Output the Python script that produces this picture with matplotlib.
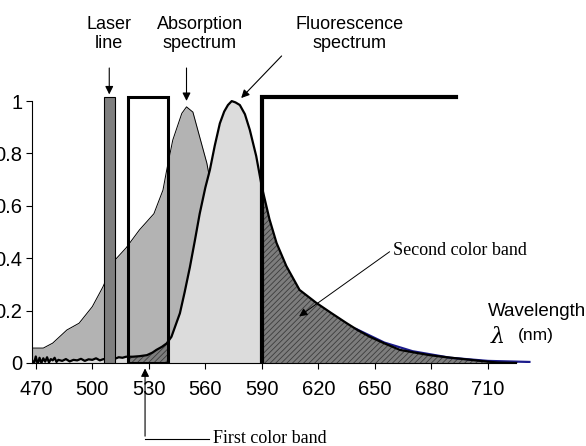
import numpy as np
import matplotlib.pyplot as plt
from matplotlib.patches import Rectangle

plt.rcParams['font.family'] = ['Liberation Sans', 'DejaVu Sans']
plt.rcParams['hatch.linewidth'] = 0.6

# absorption spectrum (normalised)
abs_wl = [468, 474, 479, 486.5, 493, 500, 505.6, 512, 518, 525, 532.7, 537.5,
          539.5, 542.7, 547.5, 550, 553.4, 557, 560.8, 565, 570, 575, 580, 590, 600]
abs_val = [0.057, 0.057, 0.076, 0.126, 0.152, 0.215, 0.29, 0.393, 0.44, 0.508, 0.57, 0.66,
           0.737, 0.851, 0.953, 0.978, 0.958, 0.863, 0.763, 0.6, 0.42, 0.28, 0.18, 0.07, 0.02]

# fluorescence spectrum (normalised, noisy baseline)
fl_wl = [468, 469, 470, 471, 472, 473, 474, 475, 476, 477, 478, 479, 480, 481, 482,
         484, 486, 488, 490, 492, 494, 496, 498, 500, 502, 504, 506, 508, 510, 512,
         514, 516, 518, 521.5, 525, 529, 532, 534, 537, 539.5, 542, 544, 546.5, 549,
         551.8, 554.5, 557, 560, 562.4, 565, 567.7, 570, 572, 574, 576, 578.3, 581,
         583.6, 587, 590, 594, 597.8, 603, 610, 619, 627, 635, 641, 647.3, 655, 663.3,
         671, 679, 688, 697, 706, 714.8, 725]
fl_val = [0.012, -0.004, 0.025, -0.005, 0.02, 0.0, 0.018, 0.005, 0.022, 0.002, 0.015,
          0.01, 0.02, 0.004, 0.012, 0.008, 0.015, 0.006, 0.012, 0.01, 0.016, 0.008,
          0.014, 0.012, 0.018, 0.01, 0.015, 0.012, 0.02, 0.016, 0.022, 0.02, 0.024,
          0.024, 0.026, 0.03, 0.04, 0.05, 0.062, 0.075, 0.1, 0.14, 0.19, 0.27, 0.366,
          0.47, 0.57, 0.67, 0.737, 0.83, 0.915, 0.96, 0.985, 1.0, 0.995, 0.985, 0.95,
          0.89, 0.79, 0.672, 0.55, 0.458, 0.37, 0.279, 0.229, 0.19, 0.152, 0.125, 0.1,
          0.075, 0.05, 0.04, 0.03, 0.022, 0.015, 0.008, 0.002, 0.0]

# faint blue tail of the trace
tail_wl = [640, 655, 670, 690, 710, 732]
tail_val = [0.13, 0.078, 0.045, 0.02, 0.008, 0.004]

laser = (506, 512)
band1 = (519, 540)
band2 = (590, 693)
band_top = 1.015

xticks = [470, 500, 530, 560, 590, 620, 650, 680, 710]
yticks = [0, 0.2, 0.4, 0.6, 0.8, 1]
ylabels = ['0', '0.2', '0.4', '0.6', '0.8', '1']

fig = plt.figure(figsize=(5.86, 4.46), dpi=100)
ax = fig.add_axes([32 / 586, 83 / 446, 512.5 / 586, 275 / 446])
ax.set_xlim(468, 740)
ax.set_ylim(0, 1.05)

# absorption
ax.fill_between(abs_wl, abs_val, color='#b3b3b3', lw=0, zorder=1)
ax.plot(abs_wl, abs_val, color='black', lw=0.7, zorder=1.5)

# fluorescence
ax.fill_between(fl_wl, fl_val, color='#dcdcdc', lw=0, zorder=2)
for lo, hi in [band1, (band2[0], 740)]:
    p = ax.fill_between(fl_wl, fl_val, facecolor='#7d7d7d', edgecolor='#3c3c3c',
                        hatch='//////', lw=0, zorder=2.5)
    p.set_clip_path(Rectangle((lo, -0.1), hi - lo, 1.5, transform=ax.transData))
ax.plot(tail_wl, tail_val, color='#1c1c8c', lw=1.6, zorder=2.8)
ax.plot(fl_wl, fl_val, color='black', lw=1.6, zorder=3)

# laser line and colour bands
ax.bar((laser[0] + laser[1]) / 2, band_top, width=laser[1] - laser[0],
       color='#7f7f7f', edgecolor='black', lw=0.8, zorder=4)
ax.bar((band1[0] + band1[1]) / 2, band_top, width=band1[1] - band1[0],
       fill=False, edgecolor='black', lw=2.2, zorder=4)
ax.plot([band2[0], band2[0], band2[1]], [0, band_top, band_top],
        color='black', lw=3, zorder=4, solid_joinstyle='miter')

# axes styling
for s in ['top', 'right']:
    ax.spines[s].set_visible(False)
ax.spines['left'].set_bounds(0, 1)
ax.spines['bottom'].set_bounds(468, 725)
ax.spines['left'].set_linewidth(0.8)
ax.spines['bottom'].set_linewidth(0.8)
ax.set_xticks(xticks)
ax.set_yticks(yticks)
ax.set_yticklabels(ylabels)
ax.tick_params(axis='both', direction='out', length=4, width=0.8, labelsize=14.5)
ax.tick_params(axis='x', pad=8)
ax.tick_params(axis='y', pad=3)

# annotations
arr = dict(arrowstyle='-|>', color='black', lw=0.8, mutation_scale=12)
ax.annotate('', xy=(509, band_top), xytext=(509, 1.137), arrowprops=arr, annotation_clip=False)
ax.text(509, 1.256, 'Laser\nline', ha='center', va='center', fontsize=13, linespacing=1.2)
ax.annotate('', xy=(550, 0.99), xytext=(550, 1.137), arrowprops=arr, annotation_clip=False)
ax.text(557, 1.256, 'Absorption\nspectrum', ha='center', va='center', fontsize=13, linespacing=1.2)
ax.annotate('', xy=(578, 1.004), xytext=(601.5, 1.18), arrowprops=arr, annotation_clip=False)
ax.text(636.5, 1.256, 'Fluorescence\nspectrum', ha='center', va='center', fontsize=13, linespacing=1.2)

ax.annotate('', xy=(608.6, 0.172), xytext=(659, 0.431),
            arrowprops=dict(arrowstyle='-|>', color='black', lw=0.7, mutation_scale=12),
            zorder=5)
ax.text(659.5, 0.43, 'Second color band', ha='left', va='center', fontsize=13,
        family='Liberation Serif')

ax.annotate('', xy=(528, -0.01), xytext=(528, -0.29),
            arrowprops=dict(arrowstyle='-|>', color='black', lw=0.8, mutation_scale=12),
            annotation_clip=False)
ax.plot([528, 562], [-0.29, -0.29], color='black', lw=0.8, clip_on=False)
ax.text(564, -0.29, 'First color band', ha='left', va='center', fontsize=13,
        family='Liberation Serif')

ax.text(710, 0.198, 'Wavelength', ha='left', va='center', fontsize=13.5)
ax.text(711.5, 0.1, 'λ', ha='left', va='center', fontsize=16, family='DejaVu Serif',
        style='italic')
ax.text(726, 0.105, '(nm)', ha='left', va='center', fontsize=12.5)

fig.savefig('out.png', dpi=100)
